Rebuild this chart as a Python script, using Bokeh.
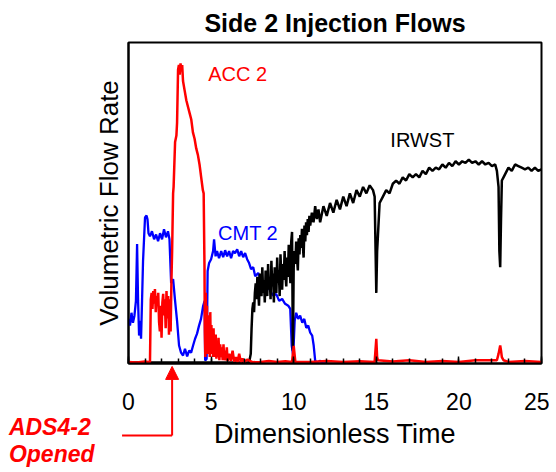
from bokeh.plotting import figure
from bokeh.layouts import column
from bokeh.models import Range1d, SingleIntervalTicker, FixedTicker, Label, Arrow, NormalHead
from bokeh.embed import file_html
from bokeh.resources import INLINE

# ---- data (arbitrary flow units, 0-100) ----
cmt_t = [0.0, 0.09, 0.18, 0.27, 0.36, 0.45, 0.52, 0.58, 0.64, 0.70, 0.76, 0.82, 0.88, 1.0, 1.09,
         1.15, 1.21, 1.30, 1.42, 1.55, 1.67, 1.79, 1.91, 2.03, 2.15, 2.27, 2.39, 2.48, 2.58, 2.70,
         2.82, 2.94, 3.06, 3.18, 3.30, 3.42, 3.55, 3.67, 3.79, 3.91, 4.03, 4.15, 4.27, 4.39, 4.52,
         4.61, 4.64, 4.73, 4.79, 4.88, 5.0, 5.12, 5.18, 5.27, 5.36, 5.48, 5.61, 5.73, 5.85, 5.97,
         6.09, 6.21, 6.33, 6.45, 6.58, 6.70, 6.82, 6.94, 7.06, 7.18, 7.30, 7.42, 7.55, 7.67, 7.85,
         8.03, 8.21, 8.39, 8.58, 8.76, 8.94, 9.12, 9.30, 9.48, 9.67, 9.79, 9.88, 9.97, 10.06, 10.15,
         10.27, 10.39, 10.52, 10.64, 10.76, 10.88, 11.0, 11.12, 11.21, 11.30, 11.42, 11.61, 11.73, 12.0]
cmt_q = [13.9, 11.8, 15.8, 12.7, 14.9, 19.5, 37.2, 19.5, 8.7, 13.3, 7.7, 19.5, 31.9, 45.5, 46.1,
         44.9, 40.6, 39.6, 41.2, 38.7, 40.2, 38.1, 40.6, 38.7, 41.8, 39.3, 41.2, 38.7, 25.1, 26.3,
         19.5, 13.3, 5.6, 3.4, 2.5, 4.6, 2.2, 4.0, 3.4, 5.6, 7.7, 9.3, 11.8, 13.9, 18.0,
         19.5, 0.9, 1.5, 28.8, 31.3, 32.5, 35.0, 38.7, 33.4, 35.0, 32.8, 35.0, 33.1, 35.3, 33.4,
         35.0, 32.8, 35.0, 34.4, 35.6, 33.4, 35.0, 33.1, 34.4, 32.5, 31.3, 29.4, 30.0, 27.2, 28.2,
         25.7, 24.1, 24.8, 22.6, 21.1, 21.7, 19.5, 20.1, 18.6, 18.0, 17.0, 5.6, 2.5, 13.3, 15.8,
         13.9, 14.9, 12.7, 13.9, 11.1, 11.8, 9.6, 8.7, 5.6, 0.9, 0.3, 0.9, 0.0, 0.0]

acc_t = [0.0, 0.5, 1.0, 1.3, 1.35, 1.4, 1.45, 1.5, 1.55, 1.6, 1.65, 1.7, 1.75, 1.8, 1.85, 1.9,
         1.95, 2.0, 2.05, 2.1, 2.15, 2.2, 2.25, 2.3, 2.35, 2.4, 2.45, 2.5, 2.55, 2.6, 2.64, 2.70,
         2.73, 2.82, 2.90, 2.94, 3.0, 3.05, 3.1, 3.15, 3.2, 3.25, 3.3, 3.4, 3.5, 3.6, 3.7, 3.8,
         3.9, 4.0, 4.1, 4.2, 4.3, 4.35, 4.4, 4.45, 4.5, 4.55, 4.6, 4.62, 4.65, 4.68, 4.72, 4.75,
         4.78, 4.82, 4.85, 4.88, 4.92, 4.95, 4.98, 5.02, 5.05, 5.08, 5.12, 5.15, 5.18, 5.22, 5.25,
         5.28, 5.32, 5.35, 5.4, 5.45, 5.5, 5.55, 5.6, 5.65, 5.7, 5.75, 5.8, 5.85, 5.9, 5.95,
         6.0, 6.1, 6.2, 6.3, 6.4, 6.5, 6.6, 6.7, 6.8, 6.9, 7.0, 7.2, 7.5, 8.0, 8.5, 9.0, 9.5,
         9.9, 10.0, 10.1, 11.0, 12.0, 13.0, 14.0, 14.9, 15.0, 15.05, 15.1, 16.0, 17.0, 18.0,
         19.0, 20.0, 21.0, 22.3, 22.4, 22.5, 22.55, 22.6, 22.7, 23.0, 24.0, 25.0]
acc_q = [0.5, 0.3, 0.6, 0.4, 20.0, 22.0, 17.0, 22.6, 18.6, 23.2, 16.0, 21.0, 19.0, 22.0, 13.0, 10.0,
         18.0, 8.0, 19.0, 21.7, 15.0, 20.0, 11.0, 22.6, 14.0, 21.0, 9.0, 20.0, 10.0, 26.0, 35.0, 53.0,
         55.0, 69.0, 71.0, 75.0, 91.5, 93.0, 90.0, 93.5, 91.0, 93.0, 88.0, 85.0, 82.0, 80.0, 78.0, 76.0,
         72.0, 70.0, 67.0, 65.0, 62.0, 60.0, 58.0, 56.0, 54.0, 53.0, 30.0, 10.0, 2.0, 22.0, 4.0, 18.0,
         3.0, 15.0, 5.0, 13.0, 2.0, 16.0, 4.0, 12.0, 3.0, 10.0, 2.0, 11.0, 3.0, 8.0, 2.0,
         9.0, 1.5, 7.0, 2.0, 8.0, 1.0, 6.0, 2.0, 5.0, 1.0, 6.0, 1.0, 4.0, 1.0, 5.0,
         0.8, 3.0, 0.8, 4.0, 0.6, 2.0, 0.5, 3.0, 0.5, 1.5, 0.5, 1.2, 0.4, 0.5, 0.8, 0.5, 0.7,
         0.5, 5.5, 0.5, 0.5, 0.8, 0.5, 0.7, 0.5, 7.7, 2.0, 1.0, 0.6, 1.0, 0.5,
         0.8, 0.5, 1.0, 1.0, 3.0, 5.6, 4.0, 2.0, 1.0, 0.5, 0.8, 0.5]

irwst_t = [0.0, 7.30, 7.40, 7.45, 7.50, 7.55, 7.60, 7.65, 7.70, 7.75, 7.80, 7.85, 7.90, 7.95,
           8.00, 8.05, 8.10, 8.15, 8.20, 8.25, 8.30, 8.35, 8.40, 8.45, 8.50, 8.55, 8.60, 8.65,
           8.70, 8.75, 8.80, 8.85, 8.90, 8.95, 9.00, 9.05, 9.10, 9.15, 9.20, 9.25, 9.30, 9.35,
           9.40, 9.45, 9.50, 9.55, 9.60, 9.65, 9.70, 9.75, 9.80, 9.85, 9.90, 9.95, 10.00, 10.05,
           10.10, 10.15, 10.20, 10.25, 10.30, 10.35, 10.40, 10.45, 10.50, 10.55, 10.60, 10.65,
           10.70, 10.75, 10.80, 10.85, 10.90, 10.95, 11.00, 11.1, 11.2, 11.3, 11.4, 11.5,
           11.6, 11.8, 12.0, 12.2, 12.4, 12.6, 12.8, 13.0, 13.2, 13.4, 13.6, 13.8, 14.0, 14.2,
           14.4, 14.6, 14.8, 14.9, 15.0, 15.05, 15.1, 15.2, 15.4, 15.6, 15.8, 16.0, 16.2, 16.4,
           16.6, 16.8, 17.0, 17.2, 17.4, 17.6, 17.8, 18.0, 18.2, 18.4, 18.6, 18.8, 19.0, 19.2,
           19.4, 19.6, 19.8, 20.0, 20.2, 20.4, 20.6, 20.8, 21.0, 21.2, 21.4, 21.6, 21.8, 22.0,
           22.2, 22.3, 22.4, 22.45, 22.5, 22.55, 22.6, 22.7, 22.8, 23.0, 23.2, 23.4, 23.6, 23.8,
           24.0, 24.2, 24.4, 24.6, 24.8, 25.0]
irwst_q = [0.3, 0.3, 3.0, 11.0, 17.0, 19.0, 16.0, 22.0, 25.0, 20.0, 27.0, 23.0, 18.0, 28.0,
           24.0, 21.0, 30.0, 22.0, 26.0, 19.0, 29.0, 25.0, 21.0, 31.0, 23.0, 27.0, 20.0, 32.0,
           24.0, 28.0, 19.0, 30.0, 26.0, 22.0, 33.0, 25.0, 29.0, 21.0, 34.0, 27.0, 23.0, 31.0,
           26.0, 35.0, 28.0, 24.0, 33.0, 27.0, 37.0, 30.0, 25.0, 38.0, 41.0, 4.0, 30.0, 35.0,
           31.0, 38.0, 33.0, 29.0, 39.0, 34.0, 40.0, 36.0, 42.0, 37.0, 33.0, 43.0,
           38.0, 44.0, 40.0, 45.0, 41.0, 46.0, 43.0, 47.0, 44.0, 49.0, 45.0, 48.0,
           44.0, 49.0, 46.0, 50.0, 47.0, 51.0, 48.0, 52.0, 49.0, 53.0, 50.0, 54.0, 52.0, 55.0,
           53.0, 55.5, 54.0, 52.0, 22.0, 35.0, 40.0, 50.0, 52.0, 54.0, 53.0, 56.0, 57.0, 56.0,
           58.0, 57.0, 59.0, 58.0, 59.0, 58.0, 60.0, 59.0, 61.0, 60.0, 61.0, 60.5, 62.0, 61.0,
           62.5, 61.5, 63.0, 62.0, 63.0, 62.5, 63.5, 62.5, 63.0, 62.0, 63.0, 62.0, 62.5, 61.5,
           62.0, 60.0, 55.0, 35.0, 30.0, 45.0, 57.0, 58.0, 59.0, 61.0, 60.0, 62.0, 61.5, 61.0,
           60.5, 61.0, 60.0, 61.0, 60.0, 60.5]

x_ticks = [0, 5, 10, 15, 20, 25]
ads4_open_time = 2.64

FONT = "Liberation Sans"
RED = "#ff0000"
BLUE = "#0000ff"

W, H = 549, 470
p = figure(width=W, height=H, output_backend="svg", toolbar_location=None,
           x_range=Range1d(0, 25), y_range=Range1d(0, 100),
           min_border_left=128, min_border_right=8, min_border_top=40, min_border_bottom=107)
p.frame_align = False

p.title.text = "Side 2 Injection Flows"
p.title.align = "center"
p.title.text_font = FONT
p.title.text_font_size = "25px"
p.title.text_font_style = "bold"
p.title.text_color = "black"
p.title.standoff = 12

p.grid.visible = False
p.background_fill_color = "white"
p.border_fill_color = "white"
p.outline_line_color = "black"
p.outline_line_width = 2

# x axis
p.xaxis.ticker = SingleIntervalTicker(interval=5, num_minor_ticks=5)
p.xaxis.major_tick_in = 7
p.xaxis.major_tick_out = 0
p.xaxis.minor_tick_in = 5
p.xaxis.minor_tick_out = 0
p.xaxis.major_tick_line_color = "black"
p.xaxis.minor_tick_line_color = "black"
p.xaxis.major_tick_line_width = 1.5
p.xaxis.minor_tick_line_width = 1.5
p.xaxis.axis_line_width = 2
p.xaxis.axis_line_color = "black"
p.xaxis.major_label_text_font = FONT
p.xaxis.major_label_text_font_size = "23px"
p.xaxis.major_label_text_color = "black"
p.xaxis.major_label_standoff = 29
p.xaxis.axis_label = "Dimensionless Time"
p.xaxis.axis_label_text_font = FONT
p.xaxis.axis_label_text_font_size = "27px"
p.xaxis.axis_label_text_font_style = "normal"
p.xaxis.axis_label_text_color = "black"
p.xaxis.axis_label_standoff = 6

# y axis (no ticks, no numbers)
p.yaxis.ticker = FixedTicker(ticks=[])
p.yaxis.major_tick_in = 0
p.yaxis.major_tick_out = 0
p.yaxis.minor_tick_in = 0
p.yaxis.minor_tick_out = 0
p.yaxis.major_label_standoff = 0
p.yaxis.axis_line_width = 2
p.yaxis.axis_line_color = "black"
p.yaxis.axis_label = "Volumetric Flow Rate"
p.yaxis.axis_label_text_font = FONT
p.yaxis.axis_label_text_font_size = "26px"
p.yaxis.axis_label_text_font_style = "normal"
p.yaxis.axis_label_text_color = "black"
p.yaxis.axis_label_standoff = 5

# series
p.line(cmt_t, cmt_q, line_color=BLUE, line_width=2.3)
p.line(irwst_t, irwst_q, line_color="black", line_width=2.5)
p.line(acc_t, acc_q, line_color=RED, line_width=2.5)

# in-plot labels
for txt, tx, ty, col in [("ACC 2", 4.82, 90.1, RED),
                         ("CMT 2", 5.42, 40.6, BLUE),
                         ("IRWST", 15.85, 69.7, "black")]:
    p.add_layout(Label(x=tx, y=ty, text=txt, text_color=col, text_font=FONT,
                       text_font_size="20px", text_baseline="middle", text_align="left"))

# ---- transparent overlay for the ADS4-2 annotation below/left of the frame ----
OW, OH = 180, 106
px_per_t = 413 / 25.0
px_per_q = 323 / 100.0
ov_x0 = -128 / px_per_t
ov_x1 = (OW - 128) / px_per_t
ov_y1 = -(364 - 363) / px_per_q
ov_y0 = -(364 + OH - 363) / px_per_q

ov = figure(width=OW, height=OH, output_backend="svg", toolbar_location=None, title=None,
            x_range=Range1d(ov_x0, ov_x1), y_range=Range1d(ov_y0, ov_y1),
            x_axis_location=None, y_axis_location=None,
            min_border=0, min_border_left=0, min_border_right=0, min_border_top=0, min_border_bottom=0)
ov.frame_align = False
ov.grid.visible = False
ov.outline_line_color = None
ov.background_fill_color = None
ov.border_fill_color = None
ov.margin = (-OH, 0, 0, 0)

ov.add_layout(Arrow(x_start=ads4_open_time, y_start=-22.3, x_end=ads4_open_time, y_end=-0.9,
                    line_color=RED, line_width=2,
                    end=NormalHead(size=13, fill_color=RED, line_color=RED)))
ov.segment(x0=[-0.39], y0=[-22.3], x1=[ads4_open_time], y1=[-22.3], line_color=RED, line_width=2)
ov.add_layout(Label(x=-7.24, y=-19.8, text="ADS4-2", text_color=RED, text_font=FONT,
                    text_font_size="23px", text_font_style="bold italic",
                    text_baseline="middle", text_align="left"))
ov.add_layout(Label(x=-7.24, y=-28.0, text="Opened", text_color=RED, text_font=FONT,
                    text_font_size="23px", text_font_style="bold italic",
                    text_baseline="middle", text_align="left"))

layout = column(p, ov, spacing=0)
open("out.html", "w").write(file_html(layout, INLINE))
